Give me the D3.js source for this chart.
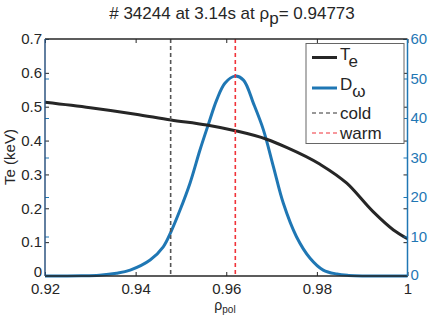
<!DOCTYPE html>
<html>
<head>
<meta charset="utf-8">
<script src="https://cdn.jsdelivr.net/npm/d3@7"></script>
<style>
  body { margin: 0; background: #fff; }
  svg { font-family: "Liberation Sans", Arial, sans-serif; }
</style>
</head>
<body>
<div id="chart"></div>
<script>
// Te profile (keV)
var rhoTe = [0.920, 0.930, 0.940, 0.9478, 0.9557, 0.962, 0.9689, 0.9733, 0.9807, 0.9866, 0.9924, 0.9969, 1.000];
var teVals = [0.513, 0.497, 0.478, 0.461, 0.446, 0.429, 0.404, 0.380, 0.330, 0.274, 0.190, 0.136, 0.110];

// D_omega weighting
var rhoD = [0.920, 0.928, 0.932, 0.9358, 0.9388, 0.9432, 0.9461, 0.9478, 0.9498, 0.9520, 0.9542, 0.9560,
            0.9579, 0.9597, 0.9619, 0.9638, 0.9660, 0.9682, 0.9704, 0.9726, 0.9755, 0.9785, 0.9814,
            0.9844, 0.987, 0.990, 1.000];
var dVals = [0, 0.05, 0.2, 0.7, 1.5, 4.05, 7.4, 11.2, 16.7, 23.5, 31.9, 38.2,
             44.6, 48.8, 50.6, 49.6, 43.7, 37.0, 27.7, 18.4, 9.95, 4.5, 1.5,
             0.5, 0.15, 0, 0];

var rhoCold = 0.94773;
var rhoWarm = 0.962;

var xTicks = [0.92, 0.94, 0.96, 0.98, 1];
var leftTicks = [0, 0.1, 0.2, 0.3, 0.4, 0.5, 0.6, 0.7];
var rightTicks = [0, 10, 20, 30, 40, 50, 60];

var legendLabels = ["T", "D", "cold", "warm"];
var legendSubs = ["e", "ω", "", ""];

var W = 431, H = 316;
var blue = "#1f77b4", ink = "#262626";

var svg = d3.select("#chart").append("svg")
  .attr("width", W).attr("height", H);

var x = d3.scaleLinear().domain([0.92, 1]).range([45, 407.5]);
var yL = d3.scaleLinear().domain([0, 0.7]).range([276, 39]);
var yR = d3.scaleLinear().domain([0, 60]).range([276, 39]);

var fmtX = function(d) { return d === 1 ? "1" : d3.format(".2f")(d); };
var fmtL = function(d) { return d === 0 ? "0" : d3.format(".1f")(d); };

// curves
var teLine = d3.line()
  .x(function(d, i) { return x(rhoTe[i]); })
  .y(function(d) { return yL(d); })
  .curve(d3.curveMonotoneX);

var dLine = d3.line()
  .x(function(d, i) { return x(rhoD[i]); })
  .y(function(d) { return yR(d); })
  .curve(d3.curveCatmullRom.alpha(0.5));

svg.append("path").datum(dVals)
  .attr("d", dLine).attr("fill", "none")
  .attr("stroke", blue).attr("stroke-width", 3)
  .attr("stroke-linejoin", "round");

svg.append("path").datum(teVals)
  .attr("d", teLine).attr("fill", "none")
  .attr("stroke", ink).attr("stroke-width", 3);

// cold / warm markers
[[rhoCold, "#555"], [rhoWarm, "#f0333a"]].forEach(function(m) {
  svg.append("line")
    .attr("x1", x(m[0])).attr("x2", x(m[0]))
    .attr("y1", yL(0.7)).attr("y2", yL(0))
    .attr("stroke", m[1]).attr("stroke-width", 1.6)
    .attr("stroke-dasharray", "4,3");
});

// axes
var axBottom = svg.append("g").attr("transform", "translate(0,276)")
  .call(d3.axisBottom(x).tickValues(xTicks).tickFormat(fmtX).tickSize(-4).tickPadding(7));
var axTop = svg.append("g").attr("transform", "translate(0,39)")
  .call(d3.axisTop(x).tickValues(xTicks).tickFormat("").tickSize(-4));
var axLeft = svg.append("g").attr("transform", "translate(45,0)")
  .call(d3.axisLeft(yL).tickValues(leftTicks).tickFormat(fmtL).tickSize(-4).tickPadding(3));
var axLeftR = svg.append("g").attr("transform", "translate(45,0)")
  .call(d3.axisLeft(yR).tickValues(rightTicks).tickFormat("").tickSize(-4));
var axRightL = svg.append("g").attr("transform", "translate(407.5,0)")
  .call(d3.axisRight(yL).tickValues(leftTicks).tickFormat("").tickSize(-4));
var axRight = svg.append("g").attr("transform", "translate(407.5,0)")
  .call(d3.axisRight(yR).tickValues(rightTicks).tickSize(-4).tickPadding(3));

[axBottom, axTop, axLeft, axLeftR, axRightL, axRight].forEach(function(g) {
  g.select(".domain").remove();
  g.selectAll("text").attr("font-size", 15).attr("font-family", null);
});
[axBottom, axTop, axLeft, axRightL].forEach(function(g) {
  g.selectAll("line").attr("stroke", ink);
  g.selectAll("text").attr("fill", ink);
});
[axLeftR, axRight].forEach(function(g) {
  g.selectAll("line").attr("stroke", blue);
  g.selectAll("text").attr("fill", blue);
});
axBottom.selectAll("text").attr("dy", "0.71em");
// the two zeros sit in the corners
axLeft.selectAll("text").filter(function(d) { return d === 0; }).attr("dy", "0.05em");
axRight.selectAll("text").filter(function(d) { return d === 0; }).attr("dy", "0.2em");

// spines
svg.append("line").attr("x1", 45).attr("x2", 407.5).attr("y1", 39).attr("y2", 39)
  .attr("stroke", ink).attr("stroke-width", 1.5);
svg.append("line").attr("x1", 45).attr("x2", 407.5).attr("y1", 276).attr("y2", 276)
  .attr("stroke", ink).attr("stroke-width", 1.5);
svg.append("line").attr("x1", 45).attr("x2", 45).attr("y1", 39).attr("y2", 276)
  .attr("stroke", "#2e5580").attr("stroke-width", 1.5);
svg.append("line").attr("x1", 407.5).attr("x2", 407.5).attr("y1", 39).attr("y2", 276)
  .attr("stroke", blue).attr("stroke-width", 1.5);

// title
var title = svg.append("text").attr("x", 232).attr("y", 19)
  .attr("text-anchor", "middle").attr("font-size", 17).attr("fill", ink);
title.append("tspan").text("# 34244 at 3.14s at  ρ");
title.append("tspan").attr("dy", 5).text("p");
title.append("tspan").attr("dy", -5).text("= 0.94773");

// axis labels
var xl = svg.append("text").attr("x", 225).attr("y", 310)
  .attr("text-anchor", "middle").attr("font-size", 14).attr("fill", ink);
xl.append("tspan").text("ρ");
xl.append("tspan").attr("dy", 3).attr("font-size", 10).text("pol");

svg.append("text")
  .attr("transform", "translate(15,157) rotate(-90)")
  .attr("text-anchor", "middle").attr("font-size", 15).attr("fill", ink)
  .text("Te (keV)");

// legend
var lg = svg.append("g");
lg.append("rect").attr("x", 306).attr("y", 43.5).attr("width", 98).attr("height", 100)
  .attr("fill", "#fff").attr("stroke", "#666").attr("stroke-width", 1);

var legendY = [57.5, 88, 113, 133];
var legendStroke = [ink, blue, "#333", "#f0333a"];
var legendWidth = [3, 3, 1.2, 1.2];
var legendDash = [null, null, "4,3", "4,3"];
legendLabels.forEach(function(lab, i) {
  lg.append("line")
    .attr("x1", 312).attr("x2", 337)
    .attr("y1", legendY[i]).attr("y2", legendY[i])
    .attr("stroke", legendStroke[i]).attr("stroke-width", legendWidth[i])
    .attr("stroke-dasharray", legendDash[i]);
  var t = lg.append("text").attr("x", 340).attr("fill", ink);
  if (legendSubs[i]) {
    t.attr("y", legendY[i] + 2).attr("font-size", 17);
    t.append("tspan").text(lab);
    t.append("tspan").attr("dy", 7).attr("font-size", 17).text(legendSubs[i]);
  } else {
    t.attr("y", legendY[i] + 6).attr("font-size", 17).text(lab);
  }
});
</script>
</body>
</html>
